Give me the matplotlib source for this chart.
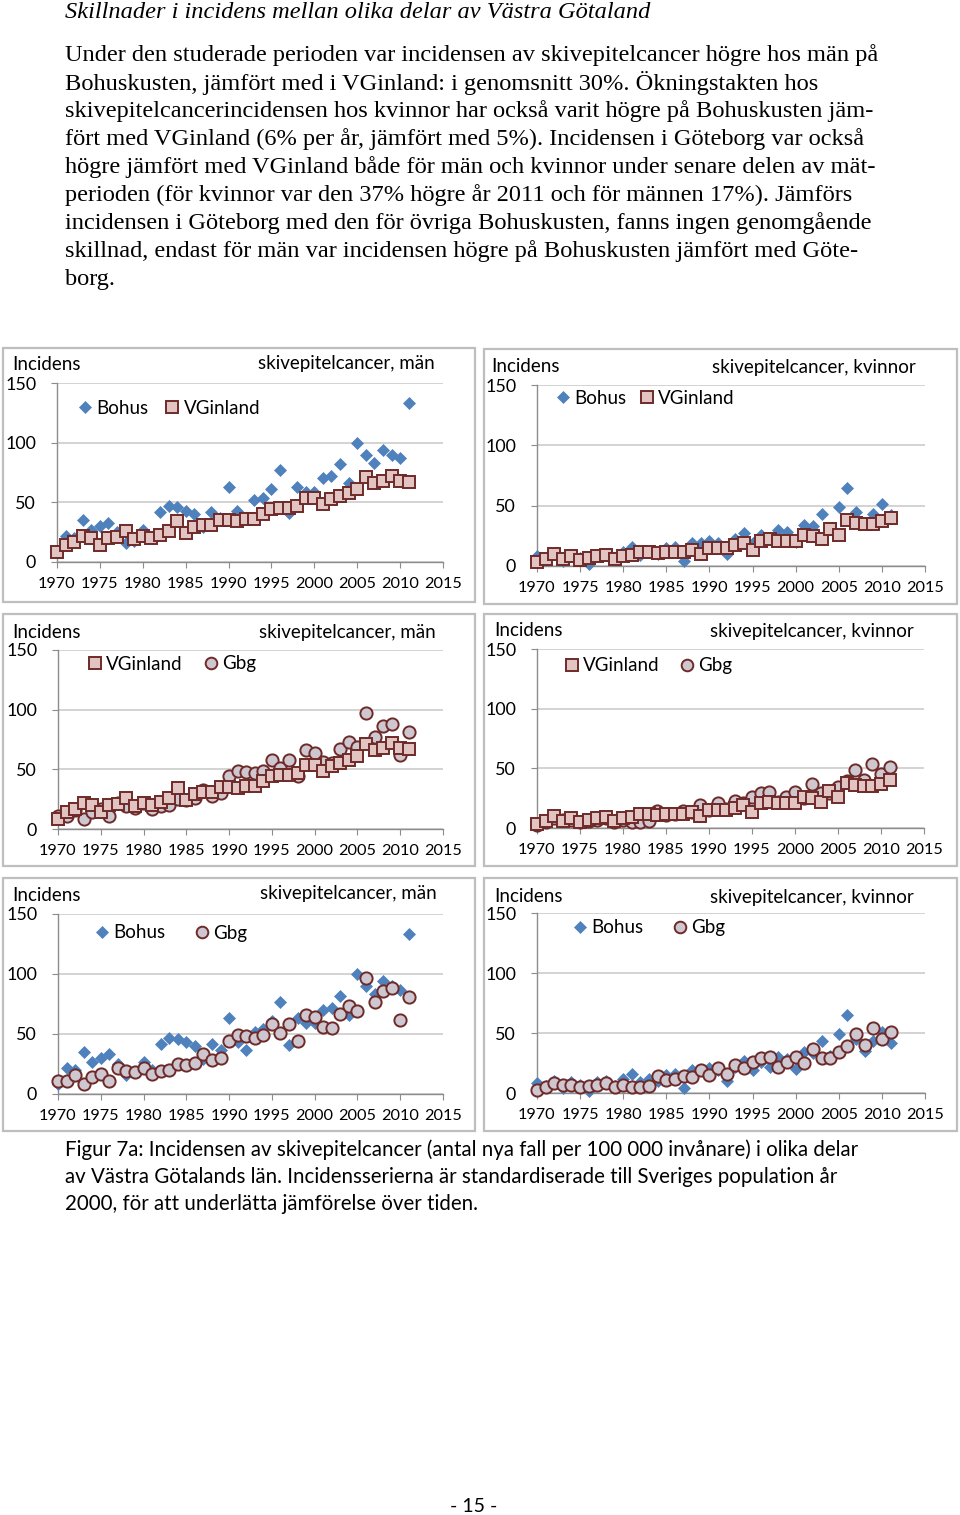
import matplotlib
matplotlib.use("Agg")
import matplotlib.pyplot as plt
from matplotlib.patches import Rectangle
from matplotlib.lines import Line2D

W, H = 960, 1515
DPI = 100

years = list(range(1970, 2012))

bohus_men = [8, 22, 20, 35, 27, 30, 33, 25, 16, 18, 27, 20, 42, 47, 46, 43, 40, 29, 42, 37,
             63, 43, 37, 52, 54, 61, 77, 41, 63, 59, 59, 70, 72, 82, 66, 100, 90, 83, 94, 90,
             87, 133]
vginland_men = [8, 14, 17, 22, 20, 14, 20, 21, 26, 19, 22, 20, 23, 26, 34, 24, 29, 31, 31, 35,
                35, 34, 36, 36, 40, 44, 45, 45, 47, 54, 54, 49, 53, 55, 58, 61, 71, 66, 68, 72,
                68, 67]
gbg_men = [11, 11, 16, 8, 14, 17, 11, 22, 19, 18, 22, 17, 19, 20, 25, 24, 26, 33, 28, 30,
           44, 49, 48, 47, 49, 58, 51, 58, 44, 66, 64, 56, 55, 67, 73, 69, 97, 77, 86, 88,
           62, 81]
bohus_women = [8, 6, 10, 4, 9, 7, 1.5, 9, 10, 6, 12, 16, 9, 12, 10, 15, 16, 4, 19, 19,
               21, 19, 10, 22, 27, 19, 26, 22, 30, 28, 20, 34, 33, 43, 31, 49, 65, 45, 35, 43,
               51, 42]
vginland_women = [3, 5.5, 10, 6, 8.5, 5, 7, 8, 9, 6, 8, 9, 12, 12, 11, 12, 12, 12, 13, 10,
                  15, 15, 15, 17, 19, 13, 21, 22, 21, 21, 21, 26, 25, 22, 31, 26, 38, 36, 35, 35,
                  37, 40]
gbg_women = [2.5, 5, 8, 7, 7, 5, 6, 7, 8, 5, 7, 5, 5, 6, 14, 11, 12, 14, 13, 19,
             15, 21, 16, 23, 21, 26, 29, 30, 22, 26, 30, 25, 37, 29, 29, 34, 39, 49, 40, 54,
             45, 51]

x_ticks = [1970, 1975, 1980, 1985, 1990, 1995, 2000, 2005, 2010, 2015]
y_ticks = [0, 50, 100, 150]

heading = "Skillnader i incidens mellan olika delar av Västra Götaland"
body_lines = [
    "Under den studerade perioden var incidensen av skivepitelcancer högre hos män på",
    "Bohuskusten, jämfört med i VGinland: i genomsnitt 30%. Ökningstakten hos",
    "skivepitelcancerincidensen hos kvinnor har också varit högre på Bohuskusten jäm-",
    "fört med VGinland (6% per år, jämfört med 5%). Incidensen i Göteborg var också",
    "högre jämfört med VGinland både för män och kvinnor under senare delen av mät-",
    "perioden (för kvinnor var den 37% högre år 2011 och för männen 17%). Jämförs",
    "incidensen i Göteborg med den för övriga Bohuskusten, fanns ingen genomgående",
    "skillnad, endast för män var incidensen högre på Bohuskusten jämfört med Göte-",
    "borg.",
]
caption_lines = [
    "Figur 7a: Incidensen av skivepitelcancer (antal nya fall per 100 000 invånare) i olika delar",
    "av Västra Götalands län. Incidensserierna är standardiserade till Sveriges population år",
    "2000, för att underlätta jämförelse över tiden.",
]
page_number = "- 15 -"

BLUE = "#4F81BD"
SQ_FACE = "#E2C4C3"
SQ_EDGE = "#6E2A28"
CI_FACE = "#CFC7D0"
GRID = "#C8C8C8"
AXIS = "#8C8C8C"
SANS = ["Lato", "DejaVu Sans"]
SERIF = ["Liberation Serif", "DejaVu Serif"]

styles = {
    "Bohus": dict(marker="D", ms=6.4, mfc=BLUE, mec=BLUE, mew=0.5),
    "VGinland": dict(marker="s", ms=9.0, mfc=SQ_FACE, mec=SQ_EDGE, mew=1.4),
    "Gbg": dict(marker="o", ms=8.8, mfc=CI_FACE, mec=SQ_EDGE, mew=1.4),
}

fig = plt.figure(figsize=(W / DPI, H / DPI), dpi=DPI)
fig.patch.set_facecolor("white")


def fx(px):
    return px / W


def fy(py):
    return 1 - py / H


# Heading and body text
fig.text(fx(65), fy(13), heading, fontsize=17.6, family=SERIF, style="italic",
         va="center", ha="left")
for i, line in enumerate(body_lines):
    fig.text(fx(65), fy(55 + 28 * i), line, fontsize=17.6, family=SERIF,
             va="center", ha="left")
for i, line in enumerate(caption_lines):
    fig.text(fx(65), fy(1150 + 27 * i), line, fontsize=14.8, family=SANS,
             va="center", ha="left")
fig.text(fx(474), fy(1507), page_number, fontsize=14, family=SANS, va="center", ha="center")

PFS = 13.5  # panel text size

panels = [
    dict(box=(3, 348, 475, 602), ax=(57, 443, 383, 562), title="skivepitelcancer, män",
         series=[("Bohus", bohus_men), ("VGinland", vginland_men)],
         legend=["Bohus", "VGinland"], leg=(78, 408), cs=0.95,
         inc=(12, 364), tit=(435, 363)),
    dict(box=(484, 349, 957, 604), ax=(537, 925, 385, 566), title="skivepitelcancer, kvinnor",
         series=[("Bohus", bohus_women), ("VGinland", vginland_women)],
         legend=["Bohus", "VGinland"], leg=(556, 398), cs=0.75,
         inc=(491, 367), tit=(916, 367)),
    dict(box=(3, 614, 475, 866), ax=(58, 443, 650, 829), title="skivepitelcancer, män",
         series=[("Gbg", gbg_men), ("VGinland", vginland_men)],
         legend=["VGinland", "Gbg"], leg=(88, 664), cs=1.15,
         inc=(12, 632), tit=(436, 632)),
    dict(box=(484, 614, 957, 866), ax=(537, 924, 649, 828), title="skivepitelcancer, kvinnor",
         series=[("Gbg", gbg_women), ("VGinland", vginland_women)],
         legend=["VGinland", "Gbg"], leg=(565, 666), cs=1.1,
         inc=(494, 631), tit=(914, 631)),
    dict(box=(3, 878, 475, 1131), ax=(58, 443, 914, 1094), title="skivepitelcancer, män",
         series=[("Bohus", bohus_men), ("Gbg", gbg_men)],
         legend=["Bohus", "Gbg"], leg=(95, 933), cs=1.6,
         inc=(12, 895), tit=(437, 894)),
    dict(box=(484, 878, 957, 1131), ax=(537, 925, 913, 1093), title="skivepitelcancer, kvinnor",
         series=[("Bohus", bohus_women), ("Gbg", gbg_women)],
         legend=["Bohus", "Gbg"], leg=(573, 928), cs=1.6,
         inc=(494, 897), tit=(914, 897)),
]

for p in panels:
    bx0, by0, bx1, by1 = p["box"]
    fig.patches.append(Rectangle((fx(bx0), fy(by1)), fx(bx1 - bx0), (by1 - by0) / H,
                                 transform=fig.transFigure, fill=False,
                                 edgecolor="#BEBEBE", linewidth=1.6, zorder=0))
    x0, x1, yt, yb = p["ax"]
    ax = fig.add_axes([fx(x0), fy(yb), fx(x1 - x0), (yb - yt) / H])
    ax.set_facecolor("none")
    ax.set_xlim(1970, 2015)
    ax.set_ylim(0, 150)
    ax.set_xticks(x_ticks)
    ax.set_yticks(y_ticks)
    ax.set_xticklabels([str(t) for t in x_ticks], family=SANS, fontsize=11.7)
    ax.set_yticklabels([str(t) for t in y_ticks], family=SANS, fontsize=12.9)
    for s in ("top", "right"):
        ax.spines[s].set_visible(False)
    for s in ("left", "bottom"):
        ax.spines[s].set_color(AXIS)
        ax.spines[s].set_linewidth(1.0)
    ax.tick_params(axis="x", direction="out", length=4.5, color=AXIS, pad=6.5)
    ax.tick_params(axis="y", direction="out", length=4.0, color=AXIS, pad=11)
    ax.grid(axis="y", color=GRID, linewidth=1.1)
    ax.set_axisbelow(True)
    for z, (name, vals) in enumerate(p["series"]):
        ax.plot(years, vals, linestyle="none", zorder=3 + z, clip_on=False, **styles[name])
    handles = []
    for name in p["legend"]:
        st = dict(styles[name])
        st["ms"] = st["ms"] * 0.95
        handles.append(Line2D([], [], linestyle="none", **st))
    lx, ly = p["leg"]
    ax.legend(handles, p["legend"], ncol=2, loc="center left",
              bbox_to_anchor=(fx(lx), fy(ly)), bbox_transform=fig.transFigure,
              frameon=False, handlelength=0.7, handletextpad=0.25,
              columnspacing=p["cs"], borderpad=0, borderaxespad=0,
              prop=dict(family=SANS, size=PFS))
    ix, iy = p["inc"]
    fig.text(fx(ix), fy(iy), "Incidens", family=SANS, fontsize=PFS, va="center", ha="left")
    tx, ty = p["tit"]
    fig.text(fx(tx), fy(ty), p["title"], family=SANS, fontsize=PFS, va="center", ha="right")

fig.savefig("out.png", dpi=DPI, facecolor="white")
